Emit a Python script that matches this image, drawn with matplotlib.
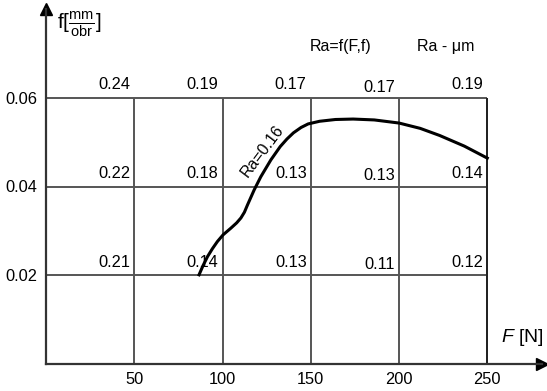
import numpy as np
import matplotlib.pyplot as plt

plt.rcParams['font.family'] = ['Liberation Sans', 'DejaVu Sans']
plt.rcParams['mathtext.fontset'] = 'custom'
plt.rcParams['mathtext.rm'] = 'Liberation Sans'
plt.rcParams['mathtext.it'] = 'Liberation Sans:italic'

# siatka: siły F [N] i posuwy f [mm/obr]
F_cols = [50, 100, 150, 200, 250]
f_rows = [0.02, 0.04, 0.06]

# wartości Ra w komórkach (wiersz f, kolumna F)
Ra_vals = {
    0.06: ['0.24', '0.19', '0.17', '0.17', '0.19'],
    0.04: ['0.22', '0.18', '0.13', '0.13', '0.14'],
    0.02: ['0.21', '0.14', '0.13', '0.11', '0.12'],
}

# krzywa Ra=0.16
F_curve = [86.7, 89, 91.5, 94.3, 97.1, 100.3, 104.7, 108, 110.4, 112.4, 114.1,
           117.9, 121.7, 127.4, 132.7, 136.5, 140.2, 144.5, 148.5, 155,
           164, 174, 186, 200, 212, 223, 237, 250]
f_curve = [0.0201, 0.0222, 0.0242, 0.0260, 0.0276, 0.0291, 0.0306, 0.0318,
           0.0329, 0.0342, 0.0358, 0.0392, 0.0422, 0.0460, 0.0490, 0.0507,
           0.0521, 0.0533, 0.0541, 0.0547, 0.0551, 0.0552, 0.0550, 0.0543,
           0.0531, 0.0515, 0.0491, 0.0464]

fig = plt.figure(figsize=(5.47, 3.91), dpi=100)
ax = fig.add_axes([46 / 547, 27 / 391, 496 / 547, 355 / 391])
ax.set_xlim(0, 281)
ax.set_ylim(0, 0.080)

for s in ['top', 'right']:
    ax.spines[s].set_visible(False)
for s in ['left', 'bottom']:
    ax.spines[s].set_linewidth(1.6)
    ax.spines[s].set_color('#333333')

# strzałki osi
ax.plot(1, 0, '>', color='black', markersize=9, transform=ax.transAxes, clip_on=False)
ax.plot(0, 1, '^', color='black', markersize=9, transform=ax.transAxes, clip_on=False)

# linie siatki
ax.hlines(f_rows, 0, F_cols[-1], color='#555555', lw=1.4)
ax.vlines(F_cols, 0, f_rows[-1], color='#555555', lw=1.4)
ax.vlines(F_cols[-1], 0, f_rows[-1], color='#222222', lw=1.4)

# wartości Ra
for fr in f_rows:
    for Fc, txt in zip(F_cols, Ra_vals[fr]):
        dy = 0.0012
        if Fc == 200:
            dy = 0.0007
        ax.text(Fc - 2.3, fr + dy, txt, ha='right', va='bottom', fontsize=11.8)

ax.plot(F_curve, f_curve, color='black', lw=2.2)
ax.text(122.5, 0.0480, 'Ra=0.16', rotation=53, ha='center', va='center', fontsize=11.5)

ax.set_xticks(F_cols)
ax.set_yticks(f_rows)
ax.set_yticklabels(['0.02', '0.04', '0.06'])
ax.tick_params(length=0, labelsize=11.8, pad=6)

ax.text(6, 0.0765, r'f[$\frac{\mathrm{mm}}{\mathrm{obr}}$]', fontsize=15,
        ha='left', va='center')
ax.text(149.5, 0.0715, 'Ra=f(F,f)', fontsize=11.5, ha='left', va='center')
ax.text(210, 0.0715, 'Ra - μm', fontsize=11.5, ha='left', va='center')
ax.text(282, 0.0035, r'$\mathit{F}$ [N]', fontsize=14, ha='right', va='bottom')

fig.savefig('out.png', dpi=100)
